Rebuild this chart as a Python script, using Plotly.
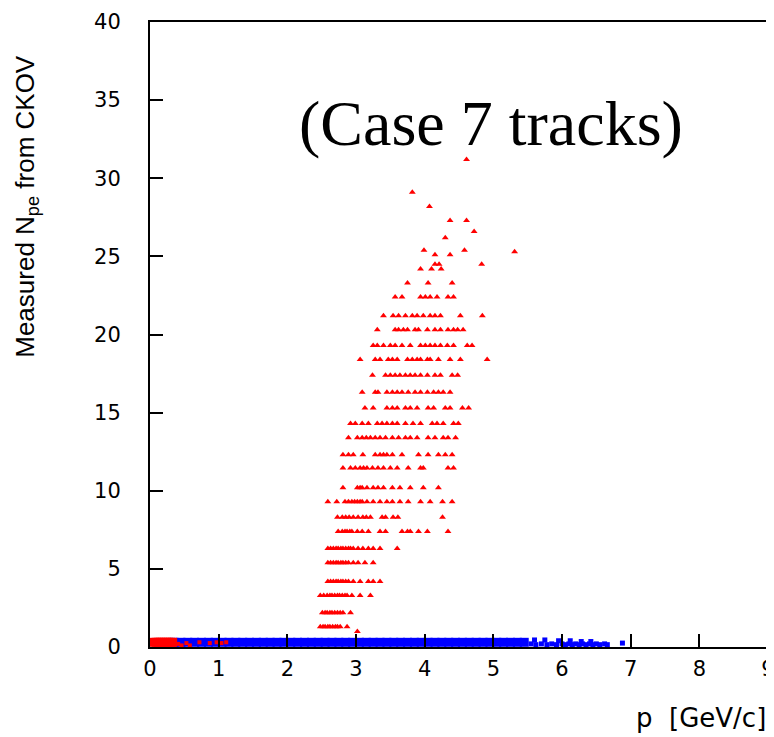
import plotly.graph_objects as go

# ---------------- data ----------------
# red tracks: rows of measured N_pe (level) with momenta p along each row
red_levels = [1.3, 2.2, 3.3, 4.2, 5.4, 6.3, 7.4, 8.3, 9.3, 10.2, 11.45, 12.3, 13.4,
              14.3, 15.3, 16.3, 17.4, 18.4, 19.3, 20.3, 21.2, 22.4, 23.3]
red_row_p = [
    [2.48, 2.52, 2.55, 2.59, 2.62, 2.66, 2.70, 2.73, 2.77, 2.87],
    [2.51, 2.55, 2.58, 2.62, 2.65, 2.69, 2.73, 2.77, 2.81, 2.92],
    [2.48, 2.53, 2.58, 2.62, 2.65, 2.69, 2.73, 2.76, 2.80, 2.84, 2.87, 2.94, 3.06, 3.21],
    [2.59, 2.63, 2.67, 2.71, 2.74, 2.78, 2.81, 2.85, 2.89, 2.96, 3.06, 3.18, 3.25, 3.35],
    [2.59, 2.63, 2.67, 2.71, 2.74, 2.78, 2.81, 2.85, 2.89, 2.96, 3.03, 3.13, 3.25],
    [2.59, 2.63, 2.67, 2.71, 2.74, 2.78, 2.81, 2.85, 2.89, 2.92, 2.96, 3.03, 3.10, 3.18, 3.25, 3.35, 3.60],
    [2.74, 2.80, 2.84, 2.87, 2.91, 2.94, 3.02, 3.09, 3.18, 3.35, 3.43, 3.67, 3.75, 3.79, 3.91, 4.04, 4.34],
    [2.73, 2.80, 2.85, 2.90, 2.96, 3.03, 3.10, 3.15, 3.21, 3.38, 3.43, 3.54, 3.61, 4.26],
    [2.59, 2.72, 2.84, 2.89, 2.94, 2.98, 3.02, 3.06, 3.09, 3.16, 3.25, 3.35, 3.45, 3.53, 3.64, 3.76, 3.94, 4.08, 4.26, 4.40],
    [2.81, 3.02, 3.06, 3.09, 3.16, 3.25, 3.32, 3.40, 3.53, 3.64, 3.79, 3.98, 4.20],
    [2.81, 2.92, 2.99, 3.06, 3.11, 3.16, 3.24, 3.32, 3.40, 3.50, 3.60, 3.76, 3.94, 3.98, 4.34, 4.42],
    [2.81, 2.89, 2.96, 3.10, 3.28, 3.35, 3.40, 3.45, 3.53, 3.67, 3.91, 4.05, 4.20, 4.30, 4.40],
    [2.89, 3.02, 3.09, 3.15, 3.21, 3.28, 3.35, 3.43, 3.53, 3.62, 3.72, 3.79, 3.89, 4.05, 4.15, 4.27, 4.34, 4.45],
    [2.92, 2.99, 3.09, 3.18, 3.31, 3.38, 3.45, 3.53, 3.60, 3.72, 3.83, 3.94, 4.11, 4.18, 4.27, 4.42, 4.49],
    [3.13, 3.25, 3.45, 3.53, 3.60, 3.72, 3.79, 3.89, 4.05, 4.13, 4.30, 4.37, 4.55, 4.64],
    [3.09, 3.28, 3.32, 3.45, 3.53, 3.60, 3.67, 3.76, 3.86, 3.94, 4.04, 4.13, 4.20, 4.27, 4.37],
    [3.24, 3.43, 3.50, 3.57, 3.64, 3.72, 3.79, 3.86, 3.94, 4.04, 4.15, 4.23, 4.40, 4.48],
    [3.06, 3.28, 3.35, 3.47, 3.53, 3.60, 3.75, 3.82, 3.89, 3.94, 4.04, 4.08, 4.20, 4.37, 4.52, 4.91],
    [3.25, 3.31, 3.40, 3.50, 3.57, 3.67, 3.79, 3.94, 4.01, 4.08, 4.15, 4.23, 4.33, 4.42, 4.62, 4.69],
    [3.31, 3.57, 3.62, 3.69, 3.75, 3.86, 3.91, 4.04, 4.15, 4.23, 4.34, 4.42, 4.48, 4.56],
    [3.40, 3.54, 3.62, 3.72, 3.82, 3.89, 3.98, 4.08, 4.15, 4.23, 4.52, 4.84],
    [3.57, 3.67, 3.94, 4.01, 4.08, 4.18, 4.34, 4.42],
    [3.75, 4.05, 4.40],
]
# isolated red tracks at high N_pe
red_high_p = [3.94, 4.10, 4.15, 4.21, 4.24, 4.83, 3.99, 4.15, 4.37, 4.58, 5.31,
              4.30, 4.72, 4.37, 4.61, 4.07, 3.82, 4.61, 3.02]
red_high_npe = [24.2, 24.2, 24.5, 24.5, 24.2, 24.5, 25.4, 25.1, 25.1, 25.4, 25.3,
                26.2, 26.6, 27.3, 27.3, 28.2, 29.1, 31.2, 1.0]
# red tracks with N_pe ~ 0 at low momentum (dense strip)
red_low_p = [0.06, 0.09, 0.12, 0.15, 0.18, 0.21, 0.24, 0.27, 0.30, 0.33]
red_low_npe = [0.3, 0.3, 0.3, 0.3, 0.3, 0.3, 0.3, 0.3, 0.3, 0.3]
# sparse red tracks on the blue band
red_sparse_p = [0.41, 0.46, 0.53, 0.58, 0.72, 0.87, 0.97, 1.04, 1.11]
red_sparse_npe = [0.2, 0.1, 0.25, 0.1, 0.3, 0.25, 0.3, 0.25, 0.3]

# blue tracks: N_pe ~ 0 band
blue_p = [0.35, 0.45, 0.55, 0.65, 0.75, 0.85, 0.95, 1.05, 1.15, 1.25, 1.35, 1.45, 1.55,
          1.65, 1.75, 1.85, 1.95, 2.05, 2.15, 2.25, 2.35, 2.45, 2.55, 2.65, 2.75, 2.85,
          2.95, 3.05, 3.15, 3.25, 3.35, 3.45, 3.55, 3.65, 3.75, 3.85, 3.95, 4.05, 4.15,
          4.25, 4.35, 4.45, 4.55, 4.65, 4.75, 4.85, 4.95, 5.05, 5.15, 5.25, 5.35, 5.45]
blue_npe = [0.3] * len(blue_p)
blue_tail_p = [5.55, 5.62, 5.70, 5.78, 5.85, 5.92, 6.00, 6.05, 6.10, 6.15, 6.20, 6.25,
               6.30, 6.35, 6.40, 6.45, 6.50, 6.55, 6.62, 6.66, 6.88, 5.60, 5.75, 5.95, 6.12, 6.28, 6.42]
blue_tail_npe = [0.2, 0.15, 0.2, 0.15, 0.2, 0.15, 0.2, 0.15, 0.2, 0.15, 0.2, 0.15,
                 0.2, 0.15, 0.2, 0.15, 0.2, 0.15, 0.2, 0.15, 0.25, 0.45, 0.45, 0.4, 0.4, 0.35, 0.35]

x_ticks = [0, 1, 2, 3, 4, 5, 6, 7, 8, 9]
y_ticks = [0, 5, 10, 15, 20, 25, 30, 35, 40]

# ---------------- build ----------------
red_p, red_npe = [], []
for lvl, ps in zip(red_levels, red_row_p):
    red_p += ps
    red_npe += [lvl] * len(ps)
red_p += red_high_p
red_npe += red_high_npe

fig = go.Figure()
fig.add_trace(go.Scatter(x=blue_p, y=blue_npe, mode="markers",
                         marker=dict(symbol="square", size=9, color="#0000ff", line=dict(width=0))))
fig.add_trace(go.Scatter(x=blue_tail_p, y=blue_tail_npe, mode="markers",
                         marker=dict(symbol="square", size=5, color="#0000ff", line=dict(width=0))))
fig.add_trace(go.Scatter(x=red_low_p, y=red_low_npe, mode="markers",
                         marker=dict(symbol="square", size=9, color="#ff0000", line=dict(width=0))))
fig.add_trace(go.Scatter(x=red_sparse_p, y=red_sparse_npe, mode="markers",
                         marker=dict(symbol="square", size=4, color="#ff0000", line=dict(width=0))))
fig.add_trace(go.Scatter(x=red_p, y=red_npe, mode="markers",
                         marker=dict(symbol="triangle-up", size=6, color="#ff0000", line=dict(width=0))))

tick_font = dict(family="DejaVu Sans", size=21, color="black")
fig.update_xaxes(range=[0, 9], tickvals=x_ticks, ticks="inside", ticklen=13, tickwidth=1.5,
                 tickcolor="black", showline=True, linecolor="black", linewidth=2, mirror=True,
                 showgrid=False, zeroline=False, tickfont=tick_font, ticklabelstandoff=2)
fig.update_yaxes(range=[0, 40], tickvals=y_ticks, ticks="inside", ticklen=13, tickwidth=1.5,
                 tickcolor="black", showline=True, linecolor="black", linewidth=2, mirror=True,
                 showgrid=False, zeroline=False, tickfont=tick_font, ticklabelstandoff=23)

# the page body has an 8px margin; margins are set so the plot box sits where the reference has it
fig.add_annotation(text="(Case 7 tracks)", xref="paper", yref="paper", x=0.552, y=0.837,
                   showarrow=False, xanchor="center", yanchor="middle",
                   font=dict(family="Liberation Serif", size=64, color="black"))
fig.add_annotation(text="Measured N<sub>pe</sub> from CKOV", xref="paper", yref="paper",
                   x=-0.2, y=0.705, textangle=-90, showarrow=False,
                   xanchor="center", yanchor="middle",
                   font=dict(family="Liberation Sans", size=26, color="black"))
fig.add_annotation(text="p  [GeV/c]", xref="paper", yref="paper", x=1.0, y=-0.113,
                   showarrow=False, xanchor="right", yanchor="middle",
                   font=dict(family="DejaVu Sans", size=26, color="black"))

fig.update_layout(width=774, height=737,
                  margin=dict(l=142, r=14, t=14, b=98, autoexpand=False),
                  paper_bgcolor="white", plot_bgcolor="white", showlegend=False)
fig.write_html("out.html")
